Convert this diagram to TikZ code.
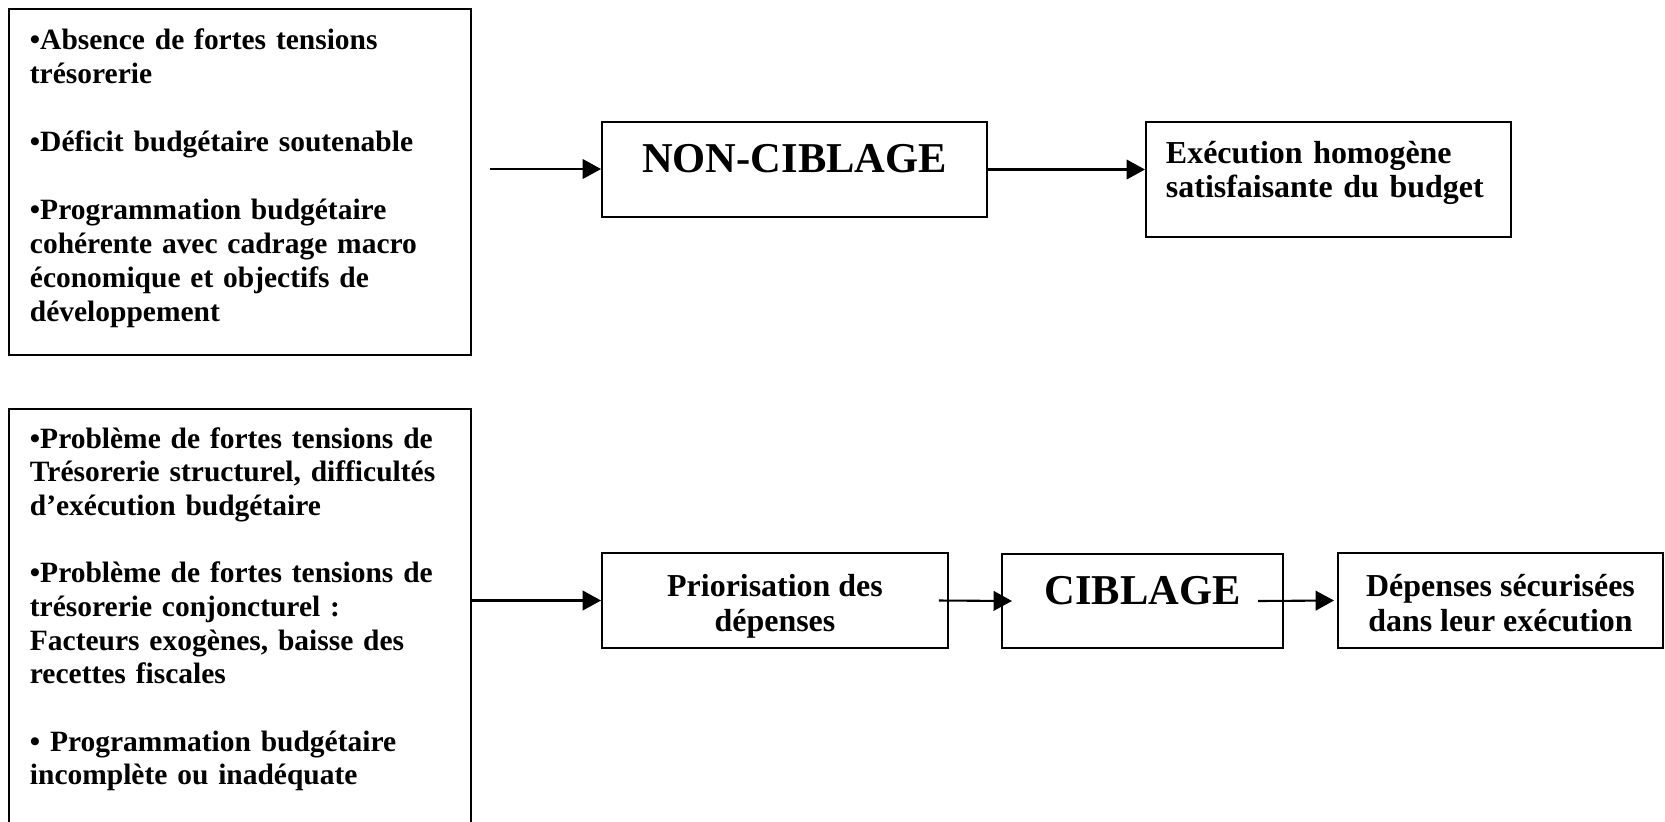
\documentclass[tikz,border=0pt]{standalone}
\usepackage{fontspec}
\setmainfont{Liberation Serif}
\usepackage{tikz}
\usetikzlibrary{arrows.meta}

\tikzset{
	boite/.style={draw, line width=0.8pt, inner sep=0pt},
	liste/.style={boite, align=left, text width=171pt, minimum width=188pt, text height=8.2pt, font=\fontsize{12pt}{13.84pt}\selectfont\bfseries},
	titre/.style={boite, text height=11.8pt, text depth=9pt, font=\fontsize{17.3pt}{20pt}\selectfont\bfseries},
	petit/.style={boite, align=center, text height=28.45pt, text depth=2.85pt, minimum height=38.7pt, font=\fontsize{13pt}{14.25pt}\selectfont\bfseries},
	fleche/.style={line width=0.85pt, -{Triangle[length=7.5pt,width=8pt]}}
}

\begin{document}
\begin{tikzpicture}[x=0.407pt, y=-0.407pt]
	\path[use as bounding box] (0,0) rectangle (1665,821);
	\clip (0,0) rectangle (1665,821);

	\node[liste, minimum height=140.8pt, text depth=115.7pt] (sans) at (240,182)
		{•Absence de fortes tensions\\ trésorerie\\[13.84pt]
		 •Déficit budgétaire soutenable\\[13.84pt]
		 •Programmation budgétaire\\ cohérente avec cadrage macro\\ économique et objectifs de\\ développement};
	\node[titre, minimum width=156.7pt, minimum height=38.7pt] (nonc) at (794.5,169.5) {NON-CIBLAGE};
	\node[boite, align=left, text width=132.3pt, minimum width=148.6pt, minimum height=46.8pt, text height=8.9pt, text depth=22.33pt, font=\fontsize{13pt}{13.84pt}\selectfont\bfseries] (exec) at (1328.5,179.5)
		{Exécution homogène\\ satisfaisante du budget};

	\node[liste, minimum height=179.5pt, text depth=155.9pt, font=\fontsize{12pt}{13.7pt}\selectfont\bfseries] (avec) at (240,629.5)
		{•Problème de fortes tensions de\\ Trésorerie structurel, difficultés\\ d’exécution budgétaire\\[13.7pt]
		 •Problème de fortes tensions de\\ trésorerie conjoncturel :\\ Facteurs exogènes, baisse des\\ recettes fiscales\\[13.7pt]
		 • Programmation budgétaire\\ incomplète ou inadéquate};
	\node[petit, minimum width=140.8pt] (prio) at (775,600.5) {Priorisation des\\ dépenses};
	\node[titre, minimum width=114.4pt, minimum height=38.3pt] (cib) at (1142.5,601) {CIBLAGE};
	\node[petit, minimum width=132.3pt] (secur) at (1500.5,600.5) {Dépenses sécurisées\\ dans leur exécution};

	\coordinate (depart) at (490,169);
	\draw[fleche] (depart) -- (depart -| nonc.west);
	\draw[fleche] (nonc.east) -- (nonc.east -| exec.west);
	\draw[fleche] (avec.east |- prio.west) -- (prio.west);
	\draw[fleche] ([shift={(-10,0)}]prio.east) -- ([shift={(11,0)}]cib.west);
	\draw[fleche] ([shift={(-26,0)}]cib.east) -- ([shift={(-3,0)}]secur.west);
\end{tikzpicture}
\end{document}
